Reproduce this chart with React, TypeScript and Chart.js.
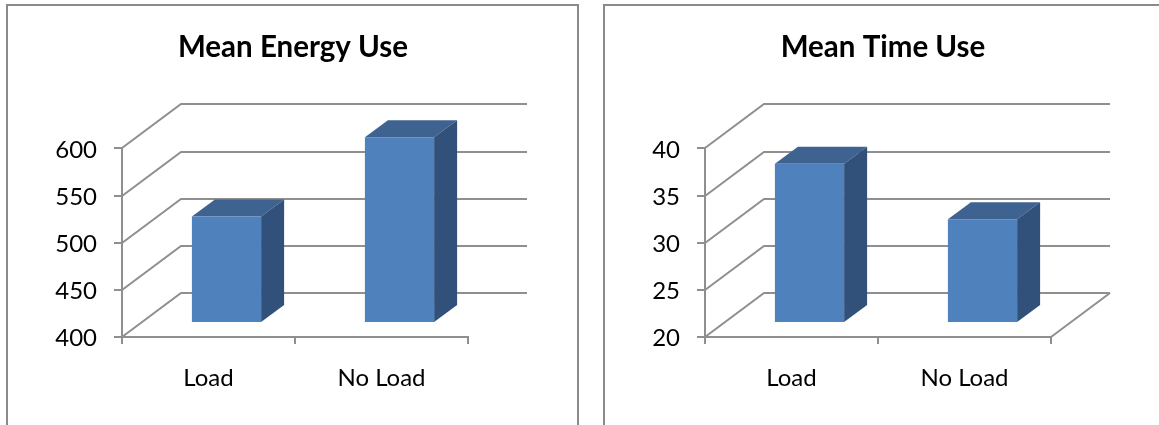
import React, { useEffect, useRef } from "react";
import { Chart, registerables } from "chart.js";

Chart.register(...registerables);

const categories = ["Load", "No Load"];
const energyValues = [513, 597];
const timeValues = [36.9, 31];

const FONT = "Lato, 'Open Sans', sans-serif";
const GREY = "#8f8f8f";
const FRONT = "#4f81bd";
const TOP = "#3e6390";
const SIDE = "#31507a";

// Pixel offsets of the oblique projection
const WALL = { dx: 59, dy: -44 };
const BAR_PLANE = { dx: 18, dy: -14 };
const BAR_DEPTH = { dx: 23, dy: -17 };

function face(ctx: CanvasRenderingContext2D, pts: number[][], color: string) {
  ctx.fillStyle = color;
  ctx.beginPath();
  pts.forEach(([x, y], i) => (i ? ctx.lineTo(x, y) : ctx.moveTo(x, y)));
  ctx.closePath();
  ctx.fill();
}

// Back wall, side wall and box-shaped bars, all derived from the chart's scales
const obliquePlugin = (closeFloor: boolean) => ({
  id: "oblique",
  // Centre the title on the whole panel rather than the padded plot region
  afterLayout(chart: any) {
    chart.titleBlock.left = 0;
    chart.titleBlock.right = chart.width;
  },
  beforeDatasetsDraw(chart: any) {
    const { ctx, chartArea: a, scales } = chart;
    ctx.save();
    ctx.strokeStyle = GREY;
    ctx.lineWidth = 2;
    for (const t of scales.y.ticks) {
      const y = Math.round(scales.y.getPixelForValue(t.value));
      ctx.beginPath();
      ctx.moveTo(a.left, y);
      ctx.lineTo(a.left + WALL.dx, y + WALL.dy);
      ctx.lineTo(a.right + WALL.dx, y + WALL.dy);
      ctx.stroke();
    }
    if (closeFloor) {
      ctx.beginPath();
      ctx.moveTo(a.right, a.bottom);
      ctx.lineTo(a.right + WALL.dx, a.bottom + WALL.dy);
      ctx.stroke();
    }
    ctx.restore();
  },
  beforeDatasetDraw(chart: any, args: any) {
    const { ctx } = chart;
    ctx.save();
    ctx.translate(BAR_PLANE.dx, BAR_PLANE.dy);
    for (const bar of chart.getDatasetMeta(args.index).data) {
      const l = bar.x - bar.width / 2;
      const r = bar.x + bar.width / 2;
      const { dx, dy } = BAR_DEPTH;
      face(ctx, [[l, bar.y], [l + dx, bar.y + dy], [r + dx, bar.y + dy], [r, bar.y]], TOP);
      face(ctx, [[r, bar.y], [r + dx, bar.y + dy], [r + dx, bar.base + dy], [r, bar.base]], SIDE);
    }
  },
  afterDatasetDraw(chart: any) {
    chart.ctx.restore();
  },
});

type PanelProps = {
  title: string;
  values: number[];
  min: number;
  max: number;
  step: number;
  left: number;
  width: number;
  axisLeft: number;
  closeFloor: boolean;
};

function Panel({ title, values, min, max, step, left, width, axisLeft, closeFloor }: PanelProps) {
  const ref = useRef<HTMLCanvasElement>(null);
  useEffect(() => {
    const yWidth = 80;
    const chart = new Chart(ref.current!, {
      type: "bar",
      data: {
        labels: categories,
        datasets: [
          { data: values, base: min, backgroundColor: FRONT, borderWidth: 0, barPercentage: 0.4, categoryPercentage: 1, clip: false } as any,
        ],
      },
      plugins: [obliquePlugin(closeFloor) as any],
      options: {
        animation: false,
        responsive: false,
        layout: { padding: { left: axisLeft - yWidth, right: width - axisLeft - 346, top: 0, bottom: 425 - 337 - 60 } },
        plugins: {
          legend: { display: false },
          tooltip: { enabled: false },
          title: {
            display: true,
            text: title,
            color: "#000",
            font: { family: FONT, size: 29.5, weight: "bold", lineHeight: 1.2 },
            padding: { top: 30, bottom: 83 },
          },
        },
        scales: {
          x: {
            afterFit: (s: any) => { s.height = 60; },
            grid: { drawOnChartArea: false, color: GREY, lineWidth: 2, tickLength: 7 },
            border: { color: GREY, width: 2 },
            ticks: { color: "#000", font: { family: FONT, size: 24 }, padding: 20, maxRotation: 0 },
          },
          y: {
            min,
            max,
            afterFit: (s: any) => { s.width = yWidth; },
            grid: { drawOnChartArea: false, color: GREY, lineWidth: 2, tickLength: 8 },
            border: { color: GREY, width: 2 },
            ticks: { stepSize: step, color: "#000", font: { family: FONT, size: 24 }, padding: 17, labelOffset: 1.5 },
          },
        },
      },
    });
    return () => chart.destroy();
  }, []);
  return (
    <canvas
      ref={ref}
      width={width}
      height={425}
      style={{ position: "absolute", left, top: 0, width, height: 425 }}
    />
  );
}

const frame = (left: number, width: number): React.CSSProperties => ({
  position: "absolute",
  left,
  top: 4,
  width,
  height: 440,
  border: "2px solid #8a8a8a",
  boxSizing: "border-box",
});

export default function App() {
  return (
    <div style={{ position: "fixed", left: 0, top: 0, width: 1159, height: 425, overflow: "hidden", background: "#fff" }}>
      <div style={frame(6, 573)} />
      <div style={frame(603, 600)} />
      <Panel title="Mean Energy Use" values={energyValues} min={400} max={600} step={50} left={7} width={572} axisLeft={115} closeFloor={false} />
      <Panel title="Mean Time Use" values={timeValues} min={20} max={40} step={5} left={604} width={558} axisLeft={101} closeFloor={true} />
    </div>
  );
}
